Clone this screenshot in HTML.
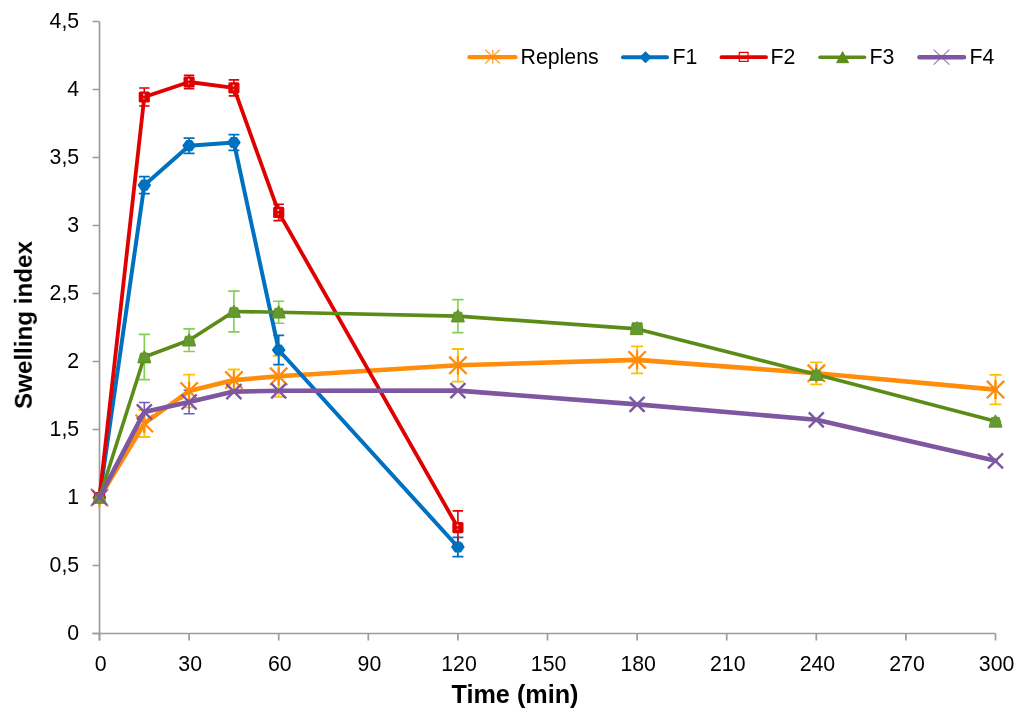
<!DOCTYPE html><html><head><meta charset="utf-8"><style>html,body{margin:0;padding:0;background:#fff;}svg{display:block;font-family:"Liberation Sans",sans-serif;}</style></head><body>
<svg width="1024" height="718" viewBox="0 0 1024 718">
<rect width="1024" height="718" fill="#fff"/>
<g stroke="#9C9C9C" stroke-width="1.7" fill="none">
<path d="M99.5 21.5V640.5M92.5 633.5H995.5"/>
<path d="M92.5 633.5H99.5M92.5 565.5H99.5M92.5 497.5H99.5M92.5 429.5H99.5M92.5 361.5H99.5M92.5 293.5H99.5M92.5 225.5H99.5M92.5 157.5H99.5M92.5 89.5H99.5M92.5 21.5H99.5M99.5 633.5V640.5M189.1 633.5V640.5M278.7 633.5V640.5M368.3 633.5V640.5M457.9 633.5V640.5M547.5 633.5V640.5M637.1 633.5V640.5M726.7 633.5V640.5M816.3 633.5V640.5M905.9 633.5V640.5M995.5 633.5V640.5"/>
</g>
<g font-size="21.3" fill="#000" text-anchor="end" style="will-change:transform">
<text x="79.2" y="640.3">0</text>
<text x="79.2" y="572.3">0,5</text>
<text x="79.2" y="504.3">1</text>
<text x="79.2" y="436.3">1,5</text>
<text x="79.2" y="368.3">2</text>
<text x="79.2" y="300.3">2,5</text>
<text x="79.2" y="232.3">3</text>
<text x="79.2" y="164.3">3,5</text>
<text x="79.2" y="96.3">4</text>
<text x="79.2" y="28.3">4,5</text>
</g>
<g font-size="21.3" fill="#000" text-anchor="middle" style="will-change:transform">
<text x="100.6" y="670.6">0</text>
<text x="190.2" y="670.6">30</text>
<text x="279.8" y="670.6">60</text>
<text x="369.4" y="670.6">90</text>
<text x="459.0" y="670.6">120</text>
<text x="548.6" y="670.6">150</text>
<text x="638.2" y="670.6">180</text>
<text x="727.8" y="670.6">210</text>
<text x="817.4" y="670.6">240</text>
<text x="907.0" y="670.6">270</text>
<text x="996.6" y="670.6">300</text>
</g>
<text style="will-change:transform" x="515" y="703" font-size="25.2" font-weight="bold" text-anchor="middle" fill="#000">Time (min)</text>
<text style="will-change:transform" transform="translate(31.8 325) rotate(-90)" font-size="24.2" font-weight="bold" text-anchor="middle" fill="#000">Swelling index</text>
<path d="M144.3 410.0V437.0M138.3 410.0H150.3M138.3 437.0H150.3" stroke="#FFC000" stroke-width="1.8" fill="none"/>
<path d="M189.1 374.7V407.3M183.1 374.7H195.1M183.1 407.3H195.1" stroke="#FFC000" stroke-width="1.8" fill="none"/>
<path d="M233.9 369.5V390.7M227.9 369.5H239.9M227.9 390.7H239.9" stroke="#FFC000" stroke-width="1.8" fill="none"/>
<path d="M278.7 355.8V396.8M272.7 355.8H284.7M272.7 396.8H284.7" stroke="#FFC000" stroke-width="1.8" fill="none"/>
<path d="M457.9 349.0V381.6M451.9 349.0H463.9M451.9 381.6H463.9" stroke="#FFC000" stroke-width="1.8" fill="none"/>
<path d="M637.1 346.4V373.4M631.1 346.4H643.1M631.1 373.4H643.1" stroke="#FFC000" stroke-width="1.8" fill="none"/>
<path d="M816.3 362.3V384.3M810.3 362.3H822.3M810.3 384.3H822.3" stroke="#FFC000" stroke-width="1.8" fill="none"/>
<path d="M995.5 374.8V404.4M989.5 374.8H1001.5M989.5 404.4H1001.5" stroke="#FFC000" stroke-width="1.8" fill="none"/>
<path d="M144.3 176.7V193.7M138.8 176.7H149.8M138.8 193.7H149.8" stroke="#0070C0" stroke-width="1.8" fill="none"/>
<path d="M189.1 138.1V153.3M183.6 138.1H194.6M183.6 153.3H194.6" stroke="#0070C0" stroke-width="1.8" fill="none"/>
<path d="M233.9 134.7V150.3M228.4 134.7H239.4M228.4 150.3H239.4" stroke="#0070C0" stroke-width="1.8" fill="none"/>
<path d="M278.7 335.4V364.6M273.2 335.4H284.2M273.2 364.6H284.2" stroke="#0070C0" stroke-width="1.8" fill="none"/>
<path d="M457.9 537.3V556.7M452.4 537.3H463.4M452.4 556.7H463.4" stroke="#0070C0" stroke-width="1.8" fill="none"/>
<path d="M144.3 88.0V106.0M139.1 88.0H149.6M139.1 106.0H149.6" stroke="#E00000" stroke-width="1.6" fill="none"/>
<path d="M189.1 75.4V88.6M183.8 75.4H194.3M183.8 88.6H194.3" stroke="#E00000" stroke-width="1.6" fill="none"/>
<path d="M233.9 79.9V95.9M228.7 79.9H239.2M228.7 95.9H239.2" stroke="#E00000" stroke-width="1.6" fill="none"/>
<path d="M278.7 204.2V220.6M273.4 204.2H283.9M273.4 220.6H283.9" stroke="#E00000" stroke-width="1.6" fill="none"/>
<path d="M457.9 510.9V544.3M452.6 510.9H463.1M452.6 544.3H463.1" stroke="#E00000" stroke-width="1.6" fill="none"/>
<path d="M144.3 334.4V379.6M138.7 334.4H150.0M138.7 379.6H150.0" stroke="#7FD14F" stroke-width="1.6" fill="none"/>
<path d="M189.1 328.9V351.5M183.4 328.9H194.8M183.4 351.5H194.8" stroke="#7FD14F" stroke-width="1.6" fill="none"/>
<path d="M233.9 291.1V331.9M228.2 291.1H239.6M228.2 331.9H239.6" stroke="#7FD14F" stroke-width="1.6" fill="none"/>
<path d="M278.7 301.2V323.2M273.1 301.2H284.3M273.1 323.2H284.3" stroke="#7FD14F" stroke-width="1.6" fill="none"/>
<path d="M457.9 299.6V332.6M452.2 299.6H463.5M452.2 332.6H463.5" stroke="#7FD14F" stroke-width="1.6" fill="none"/>
<path d="M637.1 328.9V328.9M631.5 328.9H642.8M631.5 328.9H642.8" stroke="#7FD14F" stroke-width="1.6" fill="none"/>
<path d="M816.3 374.5V374.5M810.6 374.5H821.9M810.6 374.5H821.9" stroke="#7FD14F" stroke-width="1.6" fill="none"/>
<path d="M995.5 421.3V421.3M989.9 421.3H1001.1M989.9 421.3H1001.1" stroke="#7FD14F" stroke-width="1.6" fill="none"/>
<path d="M144.3 402.5V421.3M138.8 402.5H149.8M138.8 421.3H149.8" stroke="#6F5FB0" stroke-width="1.6" fill="none"/>
<path d="M189.1 390.3V413.7M183.6 390.3H194.6M183.6 413.7H194.6" stroke="#6F5FB0" stroke-width="1.6" fill="none"/>
<polyline points="99.5,497.5 144.3,423.5 189.1,391.0 233.9,380.1 278.7,376.3 457.9,365.3 637.1,359.9 816.3,373.3 995.5,389.6" fill="none" stroke="#FF8C0A" stroke-width="4.6" stroke-linejoin="round" stroke-linecap="round"/>
<path d="M90.8 488.8L108.2 506.2M90.8 506.2L108.2 488.8M99.5 488.2V506.8" stroke="#FF8C0A" stroke-width="2.3" fill="none"/>
<path d="M135.6 414.8L153.0 432.2M135.6 432.2L153.0 414.8M144.3 414.2V432.8" stroke="#FF8C0A" stroke-width="2.3" fill="none"/>
<path d="M180.4 382.3L197.8 399.7M180.4 399.7L197.8 382.3M189.1 381.7V400.3" stroke="#FF8C0A" stroke-width="2.3" fill="none"/>
<path d="M225.2 371.4L242.6 388.8M225.2 388.8L242.6 371.4M233.9 370.8V389.4" stroke="#FF8C0A" stroke-width="2.3" fill="none"/>
<path d="M270.0 367.6L287.4 385.0M270.0 385.0L287.4 367.6M278.7 367.0V385.6" stroke="#FF8C0A" stroke-width="2.3" fill="none"/>
<path d="M449.2 356.6L466.6 374.0M449.2 374.0L466.6 356.6M457.9 356.0V374.6" stroke="#FF8C0A" stroke-width="2.3" fill="none"/>
<path d="M628.4 351.2L645.8 368.6M628.4 368.6L645.8 351.2M637.1 350.6V369.2" stroke="#FF8C0A" stroke-width="2.3" fill="none"/>
<path d="M807.6 364.6L825.0 382.0M807.6 382.0L825.0 364.6M816.3 364.0V382.6" stroke="#FF8C0A" stroke-width="2.3" fill="none"/>
<path d="M986.8 380.9L1004.2 398.3M986.8 398.3L1004.2 380.9M995.5 380.3V398.9" stroke="#FF8C0A" stroke-width="2.3" fill="none"/>
<polyline points="99.5,497.5 144.3,185.2 189.1,145.7 233.9,142.5 278.7,350.0 457.9,547.0" fill="none" stroke="#0070C0" stroke-width="4.0" stroke-linejoin="round" stroke-linecap="round"/>
<path d="M93.5 497.5L96.9 492.6L102.1 492.6L105.5 497.5L102.1 502.4L96.9 502.4Z" fill="#0070C0" stroke="#0070C0" stroke-width="1.4" stroke-linejoin="round"/>
<path d="M138.3 185.2L141.7 180.3L146.9 180.3L150.3 185.2L146.9 190.1L141.7 190.1Z" fill="#0070C0" stroke="#0070C0" stroke-width="1.4" stroke-linejoin="round"/>
<path d="M183.1 145.7L186.5 140.8L191.7 140.8L195.1 145.7L191.7 150.6L186.5 150.6Z" fill="#0070C0" stroke="#0070C0" stroke-width="1.4" stroke-linejoin="round"/>
<path d="M227.9 142.5L231.3 137.6L236.5 137.6L239.9 142.5L236.5 147.4L231.3 147.4Z" fill="#0070C0" stroke="#0070C0" stroke-width="1.4" stroke-linejoin="round"/>
<path d="M272.7 350.0L276.1 345.1L281.3 345.1L284.7 350.0L281.3 354.9L276.1 354.9Z" fill="#0070C0" stroke="#0070C0" stroke-width="1.4" stroke-linejoin="round"/>
<path d="M451.9 547.0L455.3 542.1L460.5 542.1L463.9 547.0L460.5 551.9L455.3 551.9Z" fill="#0070C0" stroke="#0070C0" stroke-width="1.4" stroke-linejoin="round"/>
<polyline points="99.5,497.5 144.3,97.0 189.1,82.0 233.9,87.9 278.7,212.4 457.9,527.6" fill="none" stroke="#E00000" stroke-width="3.8" stroke-linejoin="round" stroke-linecap="round"/>
<rect x="93.9" y="491.9" width="11.2" height="11.2" rx="1.6" fill="#E00000"/>
<rect x="98.3" y="494.3" width="1.6" height="1.8" fill="#fff" opacity="0.85"/>
<rect x="98.4" y="498.5" width="1.4" height="1.4" fill="#fff" opacity="0.5"/>
<rect x="138.7" y="91.4" width="11.2" height="11.2" rx="1.6" fill="#E00000"/>
<rect x="143.1" y="93.8" width="1.6" height="1.8" fill="#fff" opacity="0.85"/>
<rect x="143.2" y="98.0" width="1.4" height="1.4" fill="#fff" opacity="0.5"/>
<rect x="183.5" y="76.4" width="11.2" height="11.2" rx="1.6" fill="#E00000"/>
<rect x="187.9" y="78.8" width="1.6" height="1.8" fill="#fff" opacity="0.85"/>
<rect x="188.0" y="83.0" width="1.4" height="1.4" fill="#fff" opacity="0.5"/>
<rect x="228.3" y="82.3" width="11.2" height="11.2" rx="1.6" fill="#E00000"/>
<rect x="232.7" y="84.7" width="1.6" height="1.8" fill="#fff" opacity="0.85"/>
<rect x="232.8" y="88.9" width="1.4" height="1.4" fill="#fff" opacity="0.5"/>
<rect x="273.1" y="206.8" width="11.2" height="11.2" rx="1.6" fill="#E00000"/>
<rect x="277.5" y="209.2" width="1.6" height="1.8" fill="#fff" opacity="0.85"/>
<rect x="277.6" y="213.4" width="1.4" height="1.4" fill="#fff" opacity="0.5"/>
<rect x="452.3" y="522.0" width="11.2" height="11.2" rx="1.6" fill="#E00000"/>
<rect x="456.7" y="524.4" width="1.6" height="1.8" fill="#fff" opacity="0.85"/>
<rect x="456.8" y="528.6" width="1.4" height="1.4" fill="#fff" opacity="0.5"/>
<polyline points="99.5,497.5 144.3,357.0 189.1,340.2 233.9,311.5 278.7,312.2 457.9,316.1 637.1,328.9 816.3,374.5 995.5,421.3" fill="none" stroke="#5B8C17" stroke-width="3.6" stroke-linejoin="round" stroke-linecap="round"/>
<path d="M99.5 491.0L100.9 493.5L103.3 493.6L106.0 503.4L93.0 503.4L95.7 493.6L98.1 493.5Z" fill="#649830" stroke="#5B8C17" stroke-width="0.8" stroke-linejoin="round"/>
<path d="M144.3 350.5L145.7 353.0L148.1 353.1L150.8 362.9L137.8 362.9L140.5 353.1L142.9 353.0Z" fill="#649830" stroke="#5B8C17" stroke-width="0.8" stroke-linejoin="round"/>
<path d="M189.1 333.7L190.5 336.2L192.9 336.3L195.6 346.1L182.6 346.1L185.3 336.3L187.7 336.2Z" fill="#649830" stroke="#5B8C17" stroke-width="0.8" stroke-linejoin="round"/>
<path d="M233.9 305.0L235.3 307.5L237.7 307.6L240.4 317.4L227.4 317.4L230.1 307.6L232.5 307.5Z" fill="#649830" stroke="#5B8C17" stroke-width="0.8" stroke-linejoin="round"/>
<path d="M278.7 305.7L280.1 308.2L282.5 308.3L285.2 318.1L272.2 318.1L274.9 308.3L277.3 308.2Z" fill="#649830" stroke="#5B8C17" stroke-width="0.8" stroke-linejoin="round"/>
<path d="M457.9 309.6L459.3 312.1L461.7 312.2L464.4 322.0L451.4 322.0L454.1 312.2L456.5 312.1Z" fill="#649830" stroke="#5B8C17" stroke-width="0.8" stroke-linejoin="round"/>
<path d="M637.1 321.5L638.3 322.7L642.1 322.7L642.9 334.7L630.3 334.7L632.2 322.7L635.9 322.7Z" fill="#649830" stroke="#5B8C17" stroke-width="0.8" stroke-linejoin="round"/>
<path d="M816.3 368.0L817.7 370.5L820.1 370.6L822.8 380.4L809.8 380.4L812.5 370.6L814.9 370.5Z" fill="#649830" stroke="#5B8C17" stroke-width="0.8" stroke-linejoin="round"/>
<path d="M995.5 414.8L996.9 417.3L999.3 417.4L1002.0 427.2L989.0 427.2L991.7 417.4L994.1 417.3Z" fill="#649830" stroke="#5B8C17" stroke-width="0.8" stroke-linejoin="round"/>
<polyline points="99.5,497.5 144.3,411.9 189.1,402.0 233.9,391.6 278.7,390.8 457.9,390.6 637.1,404.4 816.3,419.8 995.5,460.8" fill="none" stroke="#7E57A0" stroke-width="4.6" stroke-linejoin="round" stroke-linecap="round"/>
<path d="M92.0 490.0L107.0 505.0M92.0 505.0L107.0 490.0" stroke="#7E57A0" stroke-width="2.4" fill="none"/>
<path d="M136.8 404.4L151.8 419.4M136.8 419.4L151.8 404.4" stroke="#7E57A0" stroke-width="2.4" fill="none"/>
<path d="M181.6 394.5L196.6 409.5M181.6 409.5L196.6 394.5" stroke="#7E57A0" stroke-width="2.4" fill="none"/>
<path d="M226.4 384.1L241.4 399.1M226.4 399.1L241.4 384.1" stroke="#7E57A0" stroke-width="2.4" fill="none"/>
<path d="M271.2 383.3L286.2 398.3M271.2 398.3L286.2 383.3" stroke="#7E57A0" stroke-width="2.4" fill="none"/>
<path d="M450.4 383.1L465.4 398.1M450.4 398.1L465.4 383.1" stroke="#7E57A0" stroke-width="2.4" fill="none"/>
<path d="M629.6 396.9L644.6 411.9M629.6 411.9L644.6 396.9" stroke="#7E57A0" stroke-width="2.4" fill="none"/>
<path d="M808.8 412.3L823.8 427.3M808.8 427.3L823.8 412.3" stroke="#7E57A0" stroke-width="2.4" fill="none"/>
<path d="M988.0 453.3L1003.0 468.3M988.0 468.3L1003.0 453.3" stroke="#7E57A0" stroke-width="2.4" fill="none"/>
<line x1="469.5" y1="57.2" x2="515.5" y2="57.2" stroke="#FF8C0A" stroke-width="4.2" stroke-linecap="round"/>
<path d="M485.2 49.8L499.8 63.6M485.2 63.6L499.8 49.8M492.8 49.8V63.8" stroke="#FF8C0A" stroke-width="1.4" fill="none" opacity="0.8"/>
<line x1="623.0" y1="57.2" x2="667.0" y2="57.2" stroke="#0070C0" stroke-width="4.0" stroke-linecap="round"/>
<path d="M645.5 52.2L650.5 57.2L645.5 62.2L640.5 57.2Z" fill="#0070C0" stroke="#0070C0" stroke-width="1.6" stroke-linejoin="round"/>
<line x1="721.5" y1="57.2" x2="766.0" y2="57.2" stroke="#E00000" stroke-width="3.8" stroke-linecap="round"/>
<rect x="739.3" y="52.4" width="8.8" height="9" fill="#fff" stroke="#E00000" stroke-width="1.2"/>
<line x1="739.3" y1="57.2" x2="748.1" y2="57.2" stroke="#E00000" stroke-width="3.8"/>
<line x1="820.0" y1="57.2" x2="864.5" y2="57.2" stroke="#5B8C17" stroke-width="3.6" stroke-linecap="round"/>
<path d="M842.6 51.7L848.6 62.7L836.6 62.7Z" fill="#5B8C17" stroke="#5B8C17" stroke-width="1" stroke-linejoin="round"/>
<line x1="919.5" y1="57.2" x2="964.0" y2="57.2" stroke="#7E57A0" stroke-width="4.5" stroke-linecap="round"/>
<path d="M933.6 49.6L949.4 64.6M933.6 64.6L949.4 49.6" stroke="#7E57A0" stroke-width="1.2" fill="none" opacity="0.8"/>
<g font-size="21.3" fill="#000" style="will-change:transform">
<text x="520.5" y="63.9">Replens</text>
<text x="672.5" y="63.9">F1</text>
<text x="770.5" y="63.9">F2</text>
<text x="869.5" y="63.9">F3</text>
<text x="969.5" y="63.9">F4</text>
</g>
</svg></body></html>
